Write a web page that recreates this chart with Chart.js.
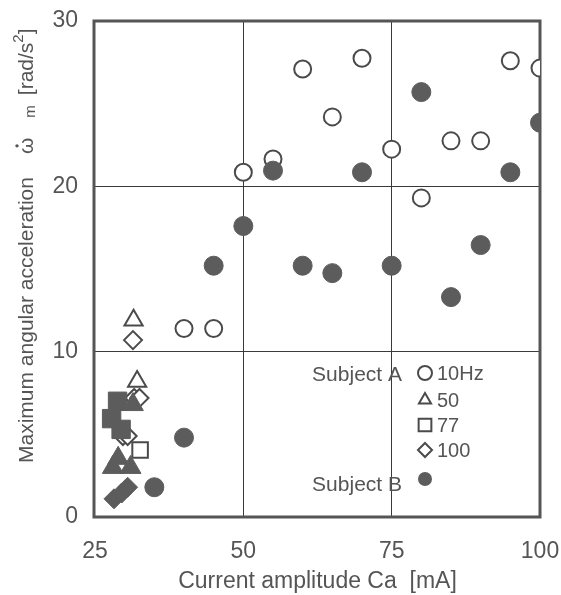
<!DOCTYPE html>
<html>
<head>
<meta charset="utf-8">
<script src="https://cdn.jsdelivr.net/npm/chart.js@4"></script>
<style>
  html, body { margin: 0; padding: 0; background: #fff; }
</style>
</head>
<body>
<canvas id="chart" width="561" height="595"></canvas>
<script>
// Subject A (open markers), by stimulation frequency
const xA10 = [40, 45, 50, 55, 60, 65, 70, 75, 80, 85, 90, 95, 100];
const yA10 = [11.4, 11.4, 20.85, 21.65, 27.1, 24.2, 27.75, 22.25, 19.3, 22.75, 22.75, 27.6, 27.15];
const xA50 = [31.5, 32.1];
const yA50 = [11.9, 8.2];
const xA77 = [32.6];
const yA77 = [4.05];
const xA100 = [31.4, 31.6, 32.5, 29.7, 30.5];
const yA100 = [10.7, 7.2, 7.2, 4.9, 4.9];

// Subject B (filled markers)
const xB10 = [35, 40, 45, 50, 55, 60, 65, 70, 75, 80, 85, 90, 95, 100];
const yB10 = [1.8, 4.8, 15.2, 17.6, 20.95, 15.2, 14.75, 20.85, 15.2, 25.7, 13.3, 16.45, 20.85, 23.85];
const xB50 = [31.4, 28.9, 28.0, 31.0];
const yB50 = [6.8, 3.55, 3.0, 3.0];
const xB77 = [28.8, 27.8, 29.4];
const yB77 = [7.0, 5.95, 5.3];
const xB100 = [28.2, 29.5, 30.5];
const yB100 = [1.1, 1.45, 1.8];

const xTicks = [25, 50, 75, 100];
const yTicks = [0, 10, 20, 30];

const FAMILY = "'Liberation Sans', Arial, sans-serif";
const TEXT = "#555";
const INK = "#4a4a4a";
const FILL = "#5c5c5c";

function pts(xs, ys) {
  return xs.map((x, i) => ({ x: x, y: ys[i] }));
}

function filled(label, xs, ys, style, r) {
  return {
    label: label, data: pts(xs, ys), pointStyle: style, pointRadius: r,
    backgroundColor: FILL, borderColor: FILL, pointBorderWidth: 1,
  };
}

function open(label, xs, ys, style, r) {
  return {
    label: label, data: pts(xs, ys), pointStyle: style, pointRadius: r,
    backgroundColor: "#fff", borderColor: INK, pointBorderWidth: 2,
  };
}

// simple marker drawing for the in-plot key
function marker(ctx, style, x, y, r, isFilled) {
  ctx.beginPath();
  if (style === "circle") {
    ctx.arc(x, y, r, 0, Math.PI * 2);
  } else if (style === "triangle") {
    ctx.moveTo(x, y - r);
    ctx.lineTo(x + r * 0.866, y + r * 0.5);
    ctx.lineTo(x - r * 0.866, y + r * 0.5);
    ctx.closePath();
  } else if (style === "rect") {
    const s = r * Math.SQRT1_2;
    ctx.rect(x - s, y - s, 2 * s, 2 * s);
  } else {
    ctx.moveTo(x, y - r);
    ctx.lineTo(x + r, y);
    ctx.lineTo(x, y + r);
    ctx.lineTo(x - r, y);
    ctx.closePath();
  }
  if (isFilled) {
    ctx.fillStyle = FILL;
    ctx.fill();
  } else {
    ctx.fillStyle = "#fff";
    ctx.fill();
    ctx.lineWidth = 2;
    ctx.strokeStyle = INK;
    ctx.stroke();
  }
}

const decor = {
  id: "decor",
  beforeDatasetsDraw(chart) {
    const { ctx, chartArea: a } = chart;
    ctx.save();
    ctx.strokeStyle = "#555";
    ctx.lineWidth = 3;
    ctx.strokeRect(a.left - 1, a.top, a.right - a.left + 1, a.bottom - a.top);
    ctx.restore();
  },
  afterDraw(chart) {
    const { ctx, chartArea: a } = chart;
    ctx.save();

    // key inside the plot
    const mx = a.right - 115;
    const tx = a.right - 103;
    ctx.textBaseline = "middle";
    ctx.fillStyle = TEXT;
    ctx.font = "21px " + FAMILY;
    ctx.textAlign = "right";
    ctx.fillText("Subject A", a.right - 138, a.bottom - 142);
    ctx.fillText("Subject B", a.right - 138, a.bottom - 32);
    const rows = [["circle", "10Hz", 144], ["triangle", "50", 117], ["rect", "77", 92], ["rectRot", "100", 67]];
    rows.forEach(([style, txt, dy]) => {
      marker(ctx, style, mx, a.bottom - dy, style === "rect" ? 9 : 7, false);
      ctx.fillStyle = TEXT;
      ctx.textAlign = "left";
      ctx.font = "20px " + FAMILY;
      ctx.fillText(txt, tx, a.bottom - dy + 1);
    });
    marker(ctx, "circle", mx, a.bottom - 38, 7, true);

    // y axis title with dotted omega, subscript and superscript
    ctx.translate(27, 463);
    ctx.rotate(-Math.PI / 2);
    ctx.fillStyle = TEXT;
    ctx.textAlign = "left";
    ctx.textBaseline = "middle";
    ctx.font = "21px " + FAMILY;
    let x = 0;
    const main = "Maximum angular acceleration";
    ctx.fillText(main, x, 0);
    x += ctx.measureText(main).width + 23;
    ctx.fillText("ω", x, 0);
    const ow = ctx.measureText("ω").width;
    ctx.beginPath();
    ctx.arc(x + ow / 2, -10, 1.7, 0, Math.PI * 2);
    ctx.fill();
    x += ow + 20;
    ctx.font = "15px " + FAMILY;
    ctx.fillText("m", x, 4);
    x += ctx.measureText("m").width + 10;
    ctx.font = "21px " + FAMILY;
    ctx.fillText("[rad/s", x, 0);
    x += ctx.measureText("[rad/s").width;
    ctx.font = "15px " + FAMILY;
    ctx.fillText("2", x, -8);
    x += ctx.measureText("2").width;
    ctx.font = "21px " + FAMILY;
    ctx.fillText("]", x, 0);
    ctx.restore();
  },
};

function gridColor(c) {
  const v = c.tick.value;
  const edge = c.scale.axis === "x" ? (v === 25 || v === 100) : (v === 0 || v === 30);
  return edge ? "rgba(0,0,0,0)" : "#3a3a3a";
}

new Chart(document.getElementById("chart"), {
  type: "scatter",
  data: {
    datasets: [
      filled("B 50Hz", xB50, yB50, "triangle", 12),
      filled("B 77Hz", xB77, yB77, "rect", 13),
      filled("B 100Hz", xB100, yB100, "rectRot", 10),
      filled("Subject B", xB10, yB10, "circle", 9.5),
      open("A 10Hz", xA10, yA10, "circle", 8.5),
      open("A 50Hz", xA50, yA50, "triangle", 10.5),
      open("A 77Hz", xA77, yA77, "rect", 11),
      open("A 100Hz", xA100, yA100, "rectRot", 9),
    ],
  },
  options: {
    responsive: false,
    animation: false,
    layout: { padding: { left: 0, top: 21, right: 21, bottom: 0 } },
    plugins: { legend: { display: false }, tooltip: { enabled: false } },
    scales: {
      x: {
        type: "linear",
        min: 25,
        max: 100,
        afterFit: (s) => { s.height = 78; s.paddingLeft = 0; s.paddingRight = 0; },
        afterBuildTicks: (s) => { s.ticks = xTicks.map((v) => ({ value: v })); },
        grid: { color: gridColor, lineWidth: 1, drawTicks: false },
        border: { display: false },
        ticks: { color: TEXT, font: { family: FAMILY, size: 23 }, padding: 21, maxRotation: 0, autoSkip: false },
        title: {
          display: true,
          text: "Current amplitude Ca  [mA]",
          color: TEXT,
          font: { family: FAMILY, size: 23 },
          padding: { top: 0, bottom: 0 },
        },
      },
      y: {
        type: "linear",
        min: 0,
        max: 30,
        afterFit: (s) => { s.width = 95; s.paddingTop = 0; s.paddingBottom = 0; },
        afterBuildTicks: (s) => { s.ticks = yTicks.map((v) => ({ value: v })); },
        grid: { color: gridColor, lineWidth: 1, drawTicks: false },
        border: { display: false },
        ticks: { color: TEXT, font: { family: FAMILY, size: 23 }, padding: 17 },
      },
    },
  },
  plugins: [decor],
});
</script>
</body>
</html>
